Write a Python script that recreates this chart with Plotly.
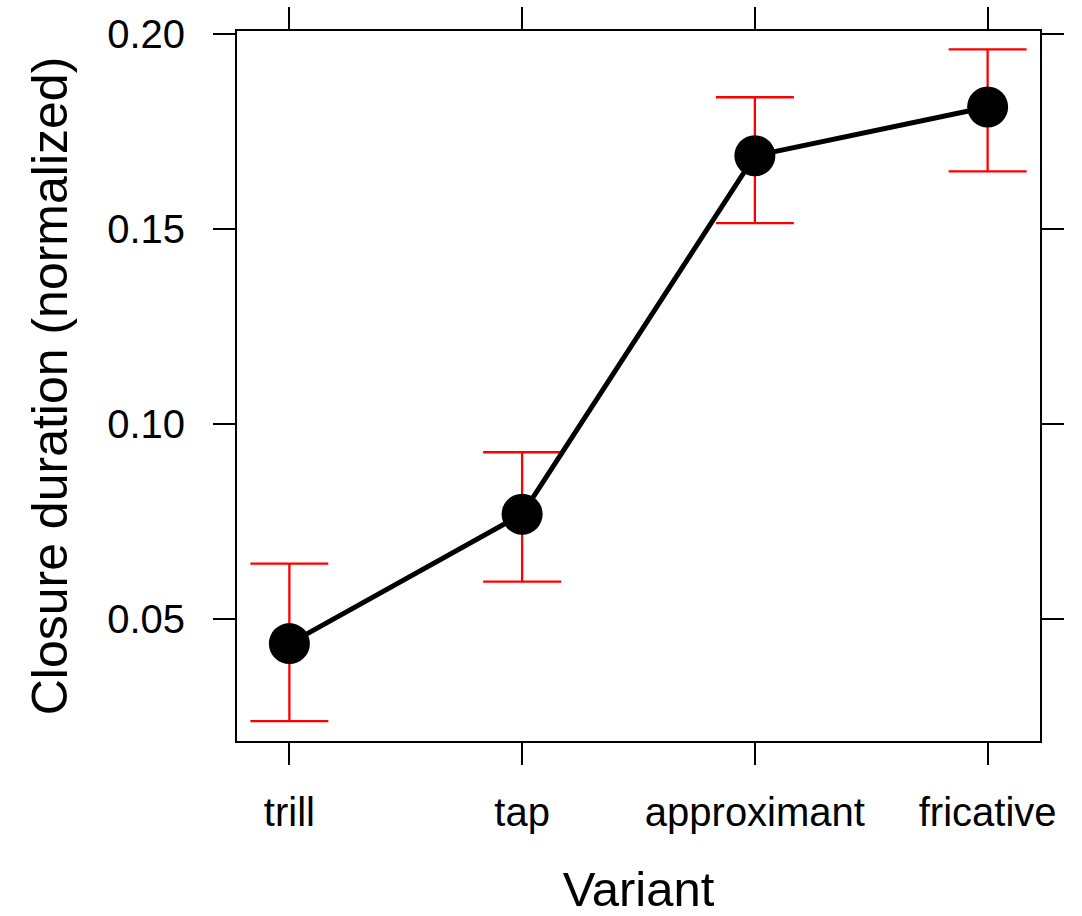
import plotly.graph_objects as go

variants = ["trill", "tap", "approximant", "fricative"]
means = [0.0436, 0.0768, 0.1688, 0.1813]
upper = [0.0641, 0.0927, 0.1838, 0.1961]
lower = [0.0237, 0.0595, 0.1515, 0.1648]

x_pos = [1, 2, 3, 4]
err_plus = [u - m for u, m in zip(upper, means)]
err_minus = [m - l for m, l in zip(means, lower)]

FONT = "Liberation Sans, Arial, sans-serif"

fig = go.Figure()
fig.add_trace(go.Scatter(
    x=x_pos, y=means, mode="lines+markers",
    line=dict(color="black", width=5),
    marker=dict(color="black", size=41),
    error_y=dict(type="data", symmetric=False, array=err_plus, arrayminus=err_minus,
                 color="red", thickness=2.3, width=39),
    showlegend=False,
))

fig.update_layout(
    width=1082, height=916,
    margin=dict(l=237, r=42, t=31, b=175),
    paper_bgcolor="white", plot_bgcolor="white",
    font=dict(family=FONT, color="black"),
)
fig.update_xaxes(
    range=[0.775, 4.225], tickvals=x_pos, ticktext=variants,
    showline=True, linecolor="black", linewidth=2, mirror="ticks",
    ticks="outside", ticklen=22, tickwidth=2, tickcolor="black",
    showgrid=False, zeroline=False, automargin=False,
    tickfont=dict(size=40, family=FONT), ticklabelstandoff=13,
    title=dict(text="Variant", font=dict(size=49, family=FONT), standoff=52),
)
fig.update_yaxes(
    range=[0.0186, 0.2008], tickvals=[0.05, 0.10, 0.15, 0.20],
    ticktext=["0.05", "0.10", "0.15", "0.20"],
    showline=True, linecolor="black", linewidth=2, mirror="ticks",
    ticks="outside", ticklen=22, tickwidth=2, tickcolor="black",
    showgrid=False, zeroline=False, automargin=False,
    tickfont=dict(size=40, family=FONT), ticklabelstandoff=20,
    title=dict(text="Closure duration (normalized)", font=dict(size=50, family=FONT), standoff=24),
)

fig.write_html("out.html")
